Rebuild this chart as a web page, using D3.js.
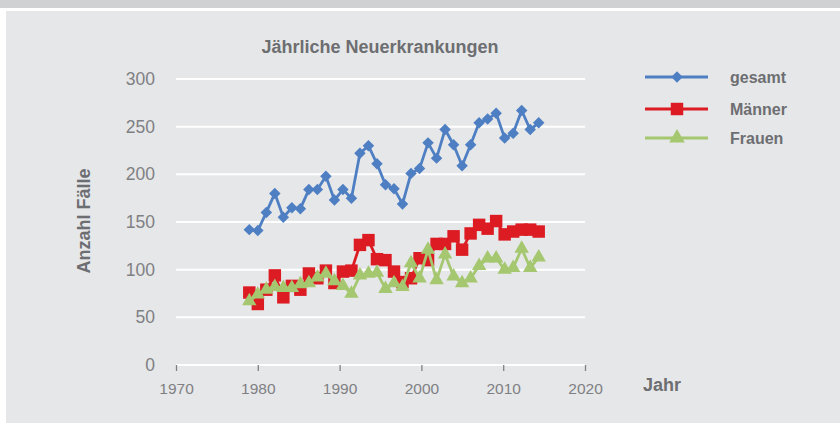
<!DOCTYPE html>
<html><head><meta charset="utf-8">
<script src="https://cdn.jsdelivr.net/npm/d3@7"></script>
<style>html,body{margin:0;padding:0;background:#fff;}svg{display:block;}</style>
</head><body>
<script>
const years = [1979,1980,1981,1982,1983,1984,1985,1986,1987,1988,1989,1990,1991,1992,1993,1994,1995,1996,1997,1998,1999,2000,2001,2002,2003,2004,2005,2006,2007,2008,2009,2010,2011,2012,2013];
const gesamt = [142,141,160,180,155,165,164,184,184,198,173,184,175,222,230,211,189,185,169,201,206,233,217,247,231,209,231,254,258,264,238,243,267,247,254];
const maenner = [76,64,79,94,71,83,79,96,91,99,86,98,99,126,131,111,110,98,87,91,112,110,127,127,135,121,138,147,143,151,137,140,142,142,140];
const frauen = [67,74,79,82,81,81,85,86,92,96,88,83,75,94,96,97,80,86,82,107,91,121,89,116,93,86,91,104,112,112,100,102,122,102,113];
const seriesNames = ["gesamt","Männer","Frauen"];
const xTicks = [1970,1980,1990,2000,2010,2020];
const yTicks = [0,50,100,150,200,250,300];
const title = "Jährliche Neuerkrankungen";
const xLabel = "Jahr";
const yLabel = "Anzahl Fälle";

const W = 840, H = 423;
const svg = d3.select("body").append("svg").attr("width", W).attr("height", H);
svg.append("rect").attr("x",0).attr("y",0).attr("width",W).attr("height",H).attr("fill","#ffffff");
svg.append("rect").attr("x",0).attr("y",0).attr("width",W).attr("height",8).attr("fill","#d0d1d3");
svg.append("rect").attr("x",6).attr("y",11).attr("width",W-6).attr("height",H-11).attr("fill","#e6e7e9");

// axis scale (tick labels) and data-placement scale (the source plots one point per year
// slightly wider than its labelled axis)
const x = d3.scaleLinear().domain([1970,2020]).range([176,585]);
const xData = d3.scaleLinear().domain([1979,2013]).range([249.3,538.7]);
const y = d3.scaleLinear().domain([0,300]).range([365,79]);
const font = "'Liberation Sans', Arial, Helvetica, sans-serif";
const txt = "#6d6e71";
const tickCol = "#7f8083";

// gridlines
svg.append("g").selectAll("line").data(yTicks).join("line")
  .attr("x1", x(1970)).attr("x2", x(2020))
  .attr("y1", d => y(d)).attr("y2", d => y(d))
  .attr("stroke", "#ffffff").attr("stroke-width", 2);

// y tick labels
svg.append("g").selectAll("text").data(yTicks).join("text")
  .attr("x", 155).attr("y", d => y(d)).attr("dy", "0.35em")
  .attr("text-anchor", "end").attr("font-family", font).attr("font-size", 17.5)
  .attr("fill", tickCol).text(d => d);

// x axis ticks
const xAxis = d3.axisBottom(x).tickValues(xTicks).tickFormat(d3.format("d")).tickSize(6).tickPadding(12);
const gx = svg.append("g").attr("transform", `translate(0,${y(0)})`).call(xAxis);
gx.select(".domain").remove();
gx.selectAll(".tick line").attr("stroke", tickCol).attr("stroke-width", 1.3);
gx.selectAll(".tick text").attr("font-family", font).attr("font-size", 15.5).attr("fill", tickCol);

// title & axis labels
svg.append("text").attr("x", 380).attr("y", 53).attr("text-anchor", "middle")
  .attr("font-family", font).attr("font-size", 18).attr("font-weight", "bold").attr("fill", txt).text(title);
svg.append("text").attr("x", 643).attr("y", 391)
  .attr("font-family", font).attr("font-size", 18).attr("font-weight", "bold").attr("fill", txt).text(xLabel);
svg.append("text").attr("transform", "translate(90,221) rotate(-90)").attr("text-anchor", "middle")
  .attr("font-family", font).attr("font-size", 18).attr("font-weight", "bold").attr("fill", txt).text(yLabel);

const colors = ["#4f7fc3", "#dc1b23", "#a4c76f"];
const symbols = [
  {type: d3.symbolSquare, size: 66, rot: 45},
  {type: d3.symbolSquare, size: 155, rot: 0},
  {type: d3.symbolTriangle, size: 90, rot: 0}
];
const allSeries = [gesamt, maenner, frauen];

const line = d3.line().x(d => xData(d.year)).y(d => y(d.v));
allSeries.forEach((vals, i) => {
  const data = years.map((yr, k) => ({year: yr, v: vals[k]}));
  const g = svg.append("g");
  g.append("path").datum(data).attr("d", line).attr("fill", "none")
    .attr("stroke", colors[i]).attr("stroke-width", 2.8).attr("stroke-linejoin", "round");
  const sym = d3.symbol().type(symbols[i].type).size(symbols[i].size);
  g.selectAll("path.m").data(data).join("path").attr("class", "m")
    .attr("d", sym)
    .attr("transform", d => `translate(${xData(d.year)},${y(d.v)}) rotate(${symbols[i].rot})`)
    .attr("fill", colors[i]);
});

// legend
const legY = [77, 109, 138];
seriesNames.forEach((name, i) => {
  const g = svg.append("g");
  g.append("line").attr("x1", 645).attr("x2", 708).attr("y1", legY[i]).attr("y2", legY[i])
    .attr("stroke", colors[i]).attr("stroke-width", 2.8);
  const sym = d3.symbol().type(symbols[i].type).size(i === 2 ? 105 : symbols[i].size);
  g.append("path").attr("d", sym)
    .attr("transform", `translate(677,${legY[i]}) rotate(${symbols[i].rot})`).attr("fill", colors[i]);
  g.append("text").attr("x", 730).attr("y", legY[i]).attr("dy", "0.35em")
    .attr("font-family", font).attr("font-size", 16).attr("font-weight", "bold").attr("fill", txt).text(name);
});
</script>
</body></html>
